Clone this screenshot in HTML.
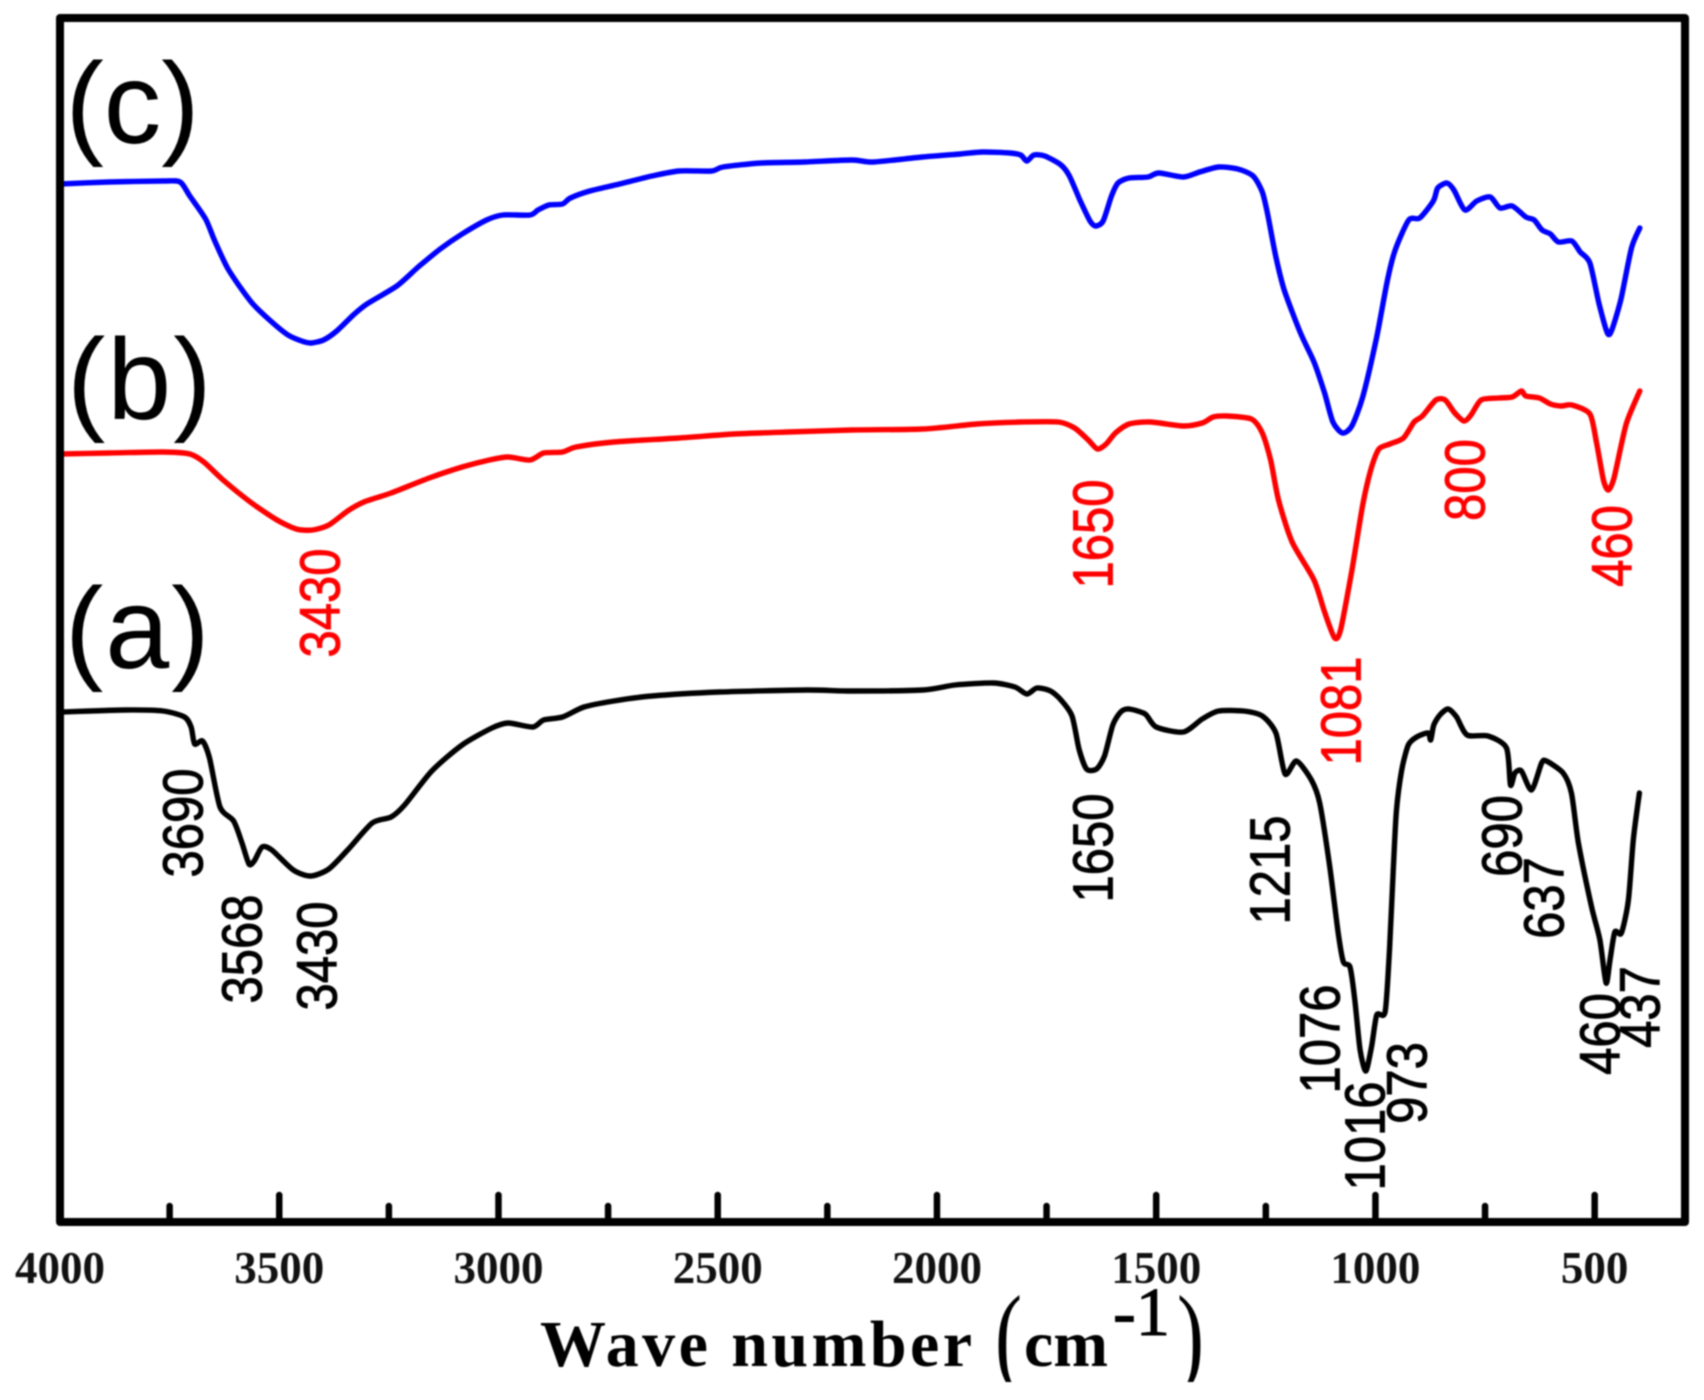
<!DOCTYPE html>
<html lang="en">
<head>
<meta charset="utf-8">
<title>FTIR spectra</title>
<style>
  html, body { margin: 0; padding: 0; background: #fff; }
  body { width: 1704px; height: 1400px; overflow: hidden; }
  svg { display: block; filter: blur(0.7px); }
  .peak { font-family: "Liberation Sans", sans-serif; font-size: 49px; text-anchor: middle; stroke-width: 0.8px; }
  .panel { font-family: "Liberation Sans", sans-serif; font-size: 115px; fill: #000; }
  .tick-label { font-family: "Liberation Serif", serif; font-weight: bold; font-size: 45px; text-anchor: middle; fill: #111; }
  .title { font-family: "Liberation Serif", serif; font-weight: bold; fill: #000; }
  .title-reg { font-family: "Liberation Serif", serif; fill: #000; }
</style>
</head>
<body>
<svg id="chart" width="1704" height="1400" viewBox="0 0 1704 1400" xmlns="http://www.w3.org/2000/svg">
  <defs>
    <clipPath id="title-clip"><rect x="0" y="0" width="1704" height="1382"/></clipPath>
  </defs>
  <g id="ticks"></g>
  <g id="tick-labels"></g>
  <g id="series"></g>
  <rect x="60" y="18" width="1625" height="1204" fill="none" stroke="#000" stroke-width="8" stroke-linejoin="round"/>

  <text class="panel" x="65.5" y="143">(c)</text>
  <text class="panel" x="67" y="419" letter-spacing="2">(b)</text>
  <text class="panel" x="65" y="668" letter-spacing="2">(a)</text>

  <g fill="#ff0000" stroke="#ff0000">
    <text class="peak" transform="translate(320,603) rotate(-90) scale(1,1.15)" y="17">3430</text>
    <text class="peak" transform="translate(1093,534) rotate(-90) scale(1,1.15)" y="17">1650</text>
    <text class="peak" transform="translate(1341,711) rotate(-90) scale(1,1.15)" y="17">1081</text>
    <text class="peak" transform="translate(1465,480) rotate(-90) scale(1,1.15)" y="17">800</text>
    <text class="peak" transform="translate(1612,546) rotate(-90) scale(1,1.15)" y="17">460</text>
  </g>
  <g fill="#000" stroke="#000">
    <text class="peak" transform="translate(183,823) rotate(-90) scale(1,1.15)" y="17">3690</text>
    <text class="peak" transform="translate(242,949) rotate(-90) scale(1,1.15)" y="17">3568</text>
    <text class="peak" transform="translate(317,956) rotate(-90) scale(1,1.15)" y="17">3430</text>
    <text class="peak" transform="translate(1093,848) rotate(-90) scale(1,1.15)" y="17">1650</text>
    <text class="peak" transform="translate(1270,870) rotate(-90) scale(1,1.15)" y="17">1215</text>
    <text class="peak" transform="translate(1320,1039) rotate(-90) scale(1,1.15)" y="17">1076</text>
    <text class="peak" transform="translate(1365,1136) rotate(-90) scale(1,1.15)" y="17">1016</text>
    <text class="peak" transform="translate(1407,1083) rotate(-90) scale(1,1.15)" y="17">973</text>
    <text class="peak" transform="translate(1502,836) rotate(-90) scale(1,1.15)" y="17">690</text>
    <text class="peak" transform="translate(1544,898) rotate(-90) scale(1,1.15)" y="17">637</text>
    <text class="peak" transform="translate(1600,1034) rotate(-90) scale(1,1.15)" y="17">460</text>
    <text class="peak" transform="translate(1640,1007) rotate(-90) scale(1,1.15)" y="17">437</text>
  </g>

  <g clip-path="url(#title-clip)">
    <text class="title" x="540" y="1366" font-size="66" textLength="432" lengthAdjust="spacing">Wave number</text>
    <text class="title-reg" x="995" y="1373" font-size="112" textLength="27" lengthAdjust="spacingAndGlyphs">(</text>
    <text class="title" x="1024" y="1366" font-size="66" textLength="84" lengthAdjust="spacingAndGlyphs">cm</text>
    <text class="title-reg" x="1113" y="1335" font-size="69" textLength="57" lengthAdjust="spacingAndGlyphs" stroke="#000" stroke-width="1">-1</text>
    <text class="title-reg" x="1177" y="1373" font-size="112" textLength="27" lengthAdjust="spacingAndGlyphs">)</text>
  </g>
</svg>
<script>
const xDomain = [4000, 294];
const yDomain = [0, 1204];
const majorTicks = [4000, 3500, 3000, 2500, 2000, 1500, 1000, 500];
const minorTicks = [3750, 3250, 2750, 2250, 1750, 1250, 750];

const waveC = [4000,3889,3765,3726,3704,3668,3647,3618,3591,3560,3517,3480,3449,3428,3399,3369,3331,3300,3232,3183,3133,3083,3027,2990,2928,2910,2885,2854,2836,2792,2724,2650,2588,2514,2488,2401,2303,2194,2145,2033,1947,1896,1834,1809,1795,1779,1754,1717,1698,1673,1651,1638,1621,1602,1587,1562,1519,1494,1438,1401,1358,1314,1279,1258,1246,1227,1208,1171,1140,1116,1097,1075,1054,1029,998,973,955,924,899,868,858,837,821,796,769,738,716,688,657,638,620,601,583,552,533,511,490,471,461,440,416,397];
const intensityC = [1038,1040,1041,1040,1026,1003,981,954,936,918,900,887,881,879,882,891,907,918,936,955,973,988,1002,1007,1007,1012,1017,1018,1024,1031,1038,1046,1051,1051,1055,1059,1060,1062,1060,1065,1068,1070,1069,1067,1061,1067,1066,1057,1046,1021,1001,996,1001,1026,1039,1044,1045,1049,1045,1050,1055,1053,1046,1030,1008,965,932,889,860,829,800,789,796,825,883,941,972,1002,1004,1021,1034,1039,1032,1012,1021,1025,1014,1016,1005,1002,992,988,980,981,970,959,918,889,892,923,974,994];

const waveB = [4000,3889,3765,3704,3672,3628,3566,3505,3461,3424,3387,3344,3307,3245,3158,3083,3021,2978,2928,2897,2854,2823,2737,2588,2463,2340,2194,2033,1909,1809,1723,1686,1655,1634,1614,1593,1562,1513,1438,1395,1370,1339,1283,1258,1239,1221,1190,1140,1116,1093,1079,1054,1029,1010,992,967,936,912,893,862,841,819,798,782,759,719,688,667,657,626,601,576,552,511,496,480,469,456,428,397];
const intensityB = [768,769,770,768,760,742,720,702,693,692,697,711,720,729,744,755,762,765,762,769,770,775,780,784,788,790,792,793,798,800,800,794,782,773,778,789,798,800,796,799,805,806,803,789,762,722,680,642,610,584,593,651,717,753,773,778,784,800,806,822,822,809,801,807,822,824,825,831,826,824,818,816,817,808,780,742,732,744,798,831];

const waveA = [4000,3852,3765,3716,3701,3693,3675,3659,3635,3604,3585,3569,3557,3539,3517,3468,3428,3387,3344,3288,3245,3214,3152,3083,3015,2978,2922,2897,2854,2805,2737,2650,2497,2297,2194,2033,1959,1871,1822,1795,1772,1741,1717,1692,1676,1659,1636,1618,1599,1581,1562,1525,1500,1438,1395,1358,1301,1258,1227,1206,1180,1146,1127,1104,1085,1073,1058,1047,1035,1022,1009,997,978,968,959,952,940,925,906,880,874,867,853,834,815,791,743,701,692,682,667,644,621,610,572,553,537,507,488,474,465,454,439,423,412,398];
const intensityA = [510,512,511,505,495,478,481,464,415,401,379,358,361,375,372,352,346,353,372,399,405,417,451,477,494,499,495,502,505,515,521,526,530,532,531,532,537,539,535,528,534,531,522,506,473,453,453,466,497,510,513,508,495,490,503,511,511,506,489,448,461,442,419,355,289,260,255,222,172,151,175,207,210,272,355,412,452,477,485,489,482,497,507,513,505,487,486,474,437,449,451,432,459,461,449,429,379,315,282,239,262,290,289,322,382,429];

const plot = { left: 60, right: 1685, top: 18, bottom: 1222 };

function xScale(w) {
  return plot.left + (xDomain[0] - w) / (xDomain[0] - xDomain[1]) * (plot.right - plot.left);
}
function yScale(v) {
  return plot.bottom - (v - yDomain[0]) / (yDomain[1] - yDomain[0]) * (plot.bottom - plot.top);
}

const NS = 'http://www.w3.org/2000/svg';
const tickGroup = document.getElementById('ticks');
const tickLabelGroup = document.getElementById('tick-labels');
const seriesGroup = document.getElementById('series');

function drawTick(w, len) {
  const t = document.createElementNS(NS, 'line');
  
  
  t.setAttribute('x1', xScale(w));
  t.setAttribute('x2', xScale(w));
  t.setAttribute('y1', plot.bottom);
  t.setAttribute('y2', plot.bottom - len);
  t.setAttribute('stroke', '#000');
  t.setAttribute('stroke-width', '6.5');
  t.setAttribute('stroke-linecap', 'round');
  tickGroup.appendChild(t);
}

majorTicks.forEach(function (w) {
  drawTick(w, 27);
  const label = document.createElementNS(NS, 'text');
  
  
  label.setAttribute('class', 'tick-label');
  label.setAttribute('x', xScale(w));
  label.setAttribute('y', 1283);
  label.textContent = String(w);
  tickLabelGroup.appendChild(label);
});
minorTicks.forEach(function (w) { drawTick(w, 16); });

function drawSeries(name, waves, values, color) {
  const pts = waves.map(function (w, i) { return [xScale(w), yScale(values[i])]; });
  let d = 'M' + pts[0][0].toFixed(1) + ' ' + pts[0][1].toFixed(1);
  for (let i = 0; i < pts.length - 1; i++) {
    const p0 = pts[Math.max(i - 1, 0)];
    const p1 = pts[i];
    const p2 = pts[i + 1];
    const p3 = pts[Math.min(i + 2, pts.length - 1)];
    const c1x = p1[0] + (p2[0] - p0[0]) / 8;
    const c1y = p1[1] + (p2[1] - p0[1]) / 8;
    const c2x = p2[0] - (p3[0] - p1[0]) / 8;
    const c2y = p2[1] - (p3[1] - p1[1]) / 8;
    d += 'C' + c1x.toFixed(1) + ' ' + c1y.toFixed(1) + ' ' + c2x.toFixed(1) + ' ' + c2y.toFixed(1) + ' ' + p2[0].toFixed(1) + ' ' + p2[1].toFixed(1);
  }
  const p = document.createElementNS(NS, 'path');
  
  
  p.setAttribute('d', d);
  p.setAttribute('fill', 'none');
  p.setAttribute('stroke', color);
  p.setAttribute('stroke-width', '5.4');
  p.setAttribute('stroke-linejoin', 'round');
  p.setAttribute('stroke-linecap', 'round');
  seriesGroup.appendChild(p);
}

drawSeries('spectrum-c', waveC, intensityC, '#0000ff');
drawSeries('spectrum-b', waveB, intensityB, '#ff0000');
drawSeries('spectrum-a', waveA, intensityA, '#000000');
</script>
</body>
</html>
